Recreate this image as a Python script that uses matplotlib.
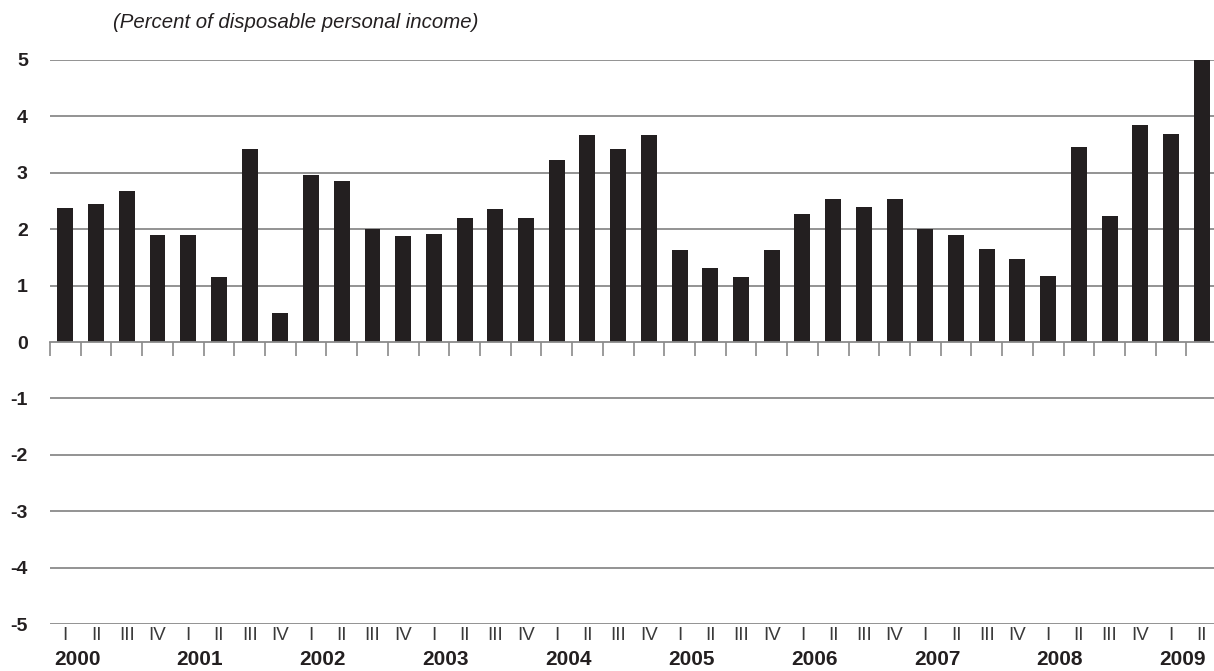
import numpy as np
import matplotlib
matplotlib.use("Agg")
import matplotlib.pyplot as plt
import matplotlib.transforms as mtransforms

# quarterly values, 2000 Q1 .. 2009 Q2
years = [str(y) for y in range(2000, 2010)]
quarters = ["I", "II", "III", "IV"]
values = [2.38, 2.45, 2.68, 1.90,
          1.90, 1.15, 3.42, 0.51,
          2.96, 2.85, 2.00, 1.88,
          1.91, 2.20, 2.36, 2.20,
          3.23, 3.67, 3.42, 3.67,
          1.63, 1.31, 1.15, 1.63,
          2.27, 2.54, 2.39, 2.54,
          2.00, 1.90, 1.65, 1.47,
          1.17, 3.46, 2.23, 3.85,
          3.69, 5.00]
yticks = [5, 4, 3, 2, 1, 0, -1, -2, -3, -4, -5]

plt.rcParams['font.family'] = ['Liberation Sans', 'DejaVu Sans']

x = np.arange(len(values))
qlabels = [quarters[i % 4] for i in range(len(values))]

fig = plt.figure(figsize=(12.14, 6.71), dpi=100)
ax = fig.add_axes([0.0412, 0.070, 0.9588, 0.8406])

grid_col = "#8a8a8a"
for yv in yticks:
    if yv != 0:
        ax.axhline(yv, color=grid_col, lw=1.3, zorder=0)

ax.bar(x, values, width=0.52, color="#231f20", zorder=2)

ax.set_xlim(-0.5, 37.4)
ax.set_ylim(-5, 5)

for s in ["top", "right", "left"]:
    ax.spines[s].set_visible(False)
ax.spines["bottom"].set_position(("data", 0))
ax.spines["bottom"].set_color(grid_col)
ax.spines["bottom"].set_linewidth(1.3)
ax.spines["bottom"].set_zorder(3)

ax.set_xticks([])
ax.set_xticks(np.arange(-0.5, len(values) - 0.5, 1.0), minor=True)
ax.tick_params(axis="x", which="minor", direction="out", length=10,
               width=1.2, color=grid_col)

ax.set_yticks(yticks)
ax.set_yticklabels([str(v) for v in yticks], fontsize=14, fontweight="bold",
                   color="#231f20")
ax.tick_params(axis="y", length=0, pad=16)

trans = mtransforms.blended_transform_factory(ax.transData, ax.transAxes)
for xi, q in zip(x, qlabels):
    ax.text(xi, -0.006, q, transform=trans, ha="center", va="top",
            fontsize=13.5, color="#3a3a3a")
for i, yr in enumerate(years):
    ax.text(i * 4 + 0.38, -0.046, yr, transform=trans, ha="center", va="top",
            fontsize=15, fontweight="bold", color="#231f20")

fig.text(0.093, 0.966, "(Percent of disposable personal income)",
         fontsize=14.7, style="italic", color="#231f20", va="center")

fig.savefig("out.png", dpi=100)
